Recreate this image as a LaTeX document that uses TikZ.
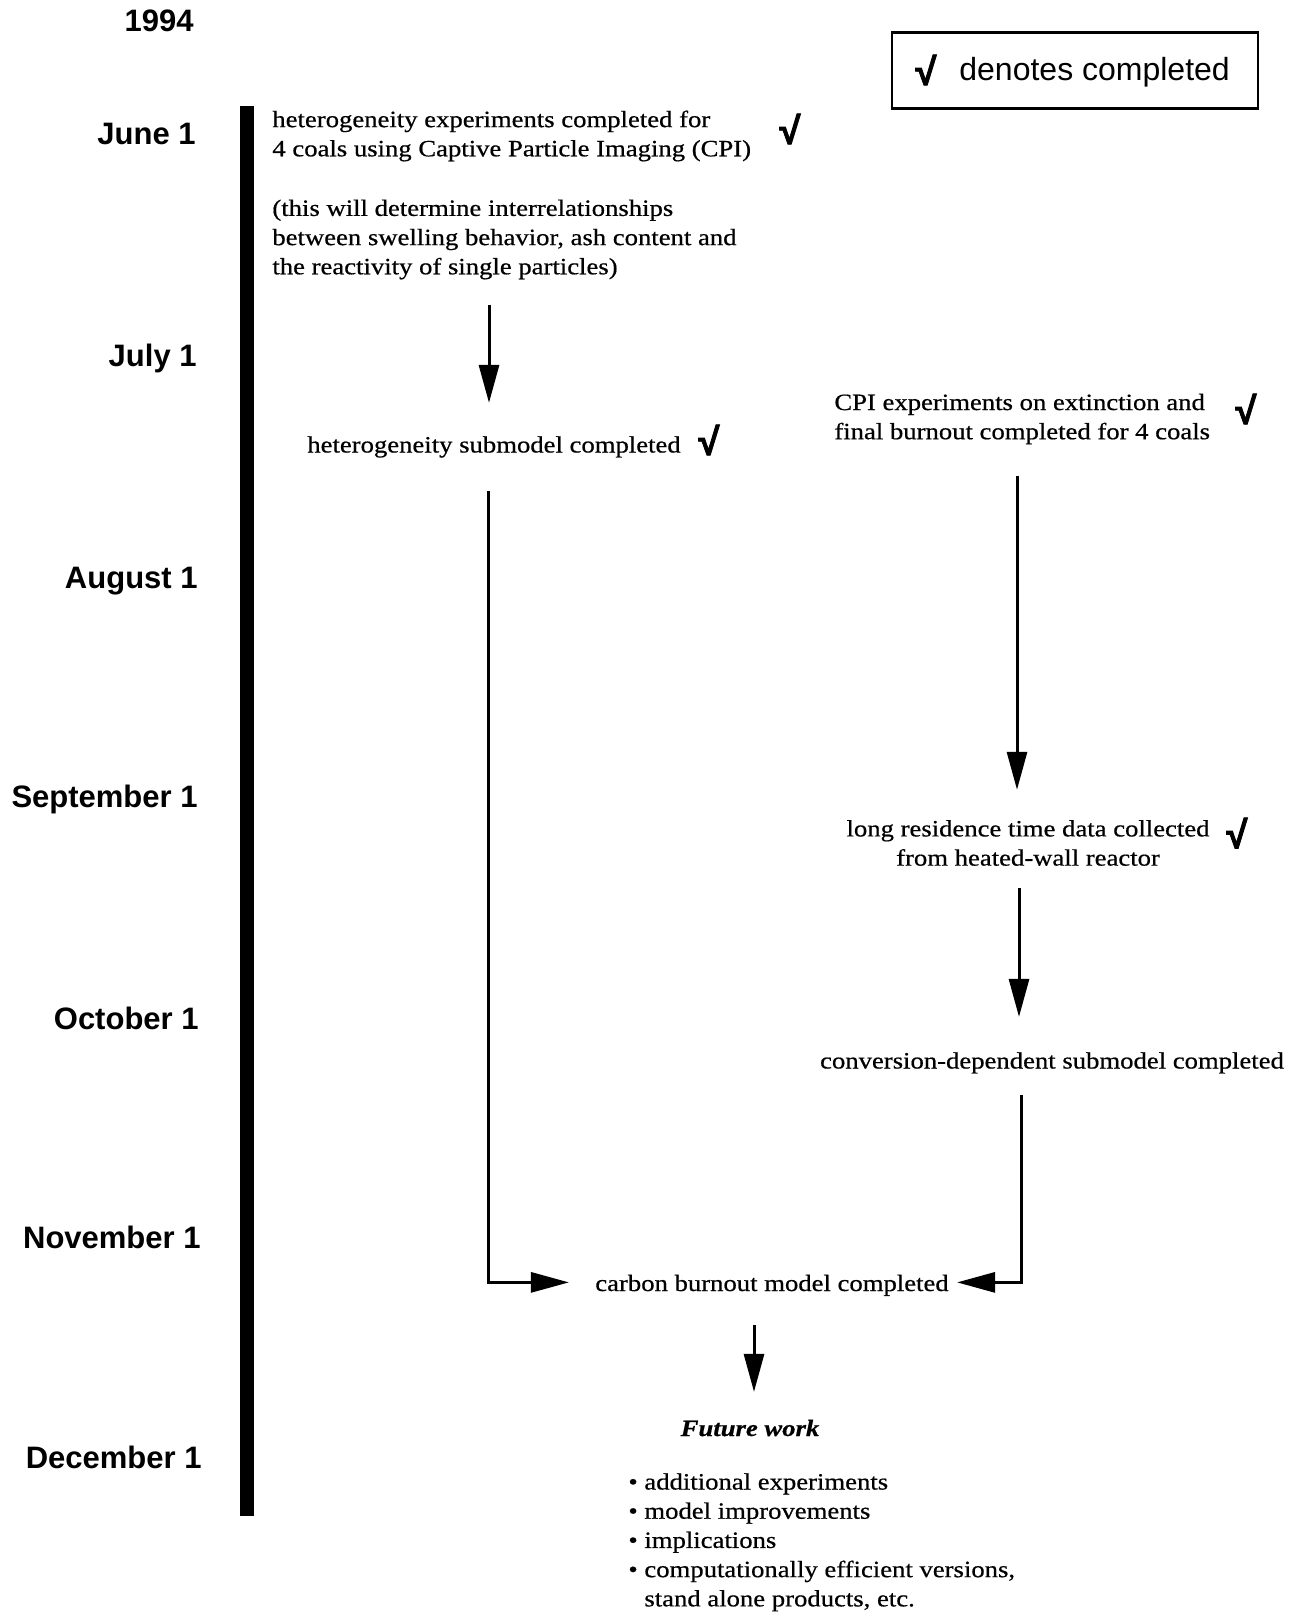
\documentclass[tikz,border=0pt]{standalone}
\usepackage{fontspec}
\setmainfont[FakeStretch=1.14,FakeBold=0.6]{Liberation Serif}
\newfontfamily\labfont{Liberation Sans}
\newfontfamily\chkfont[FakeBold=2.5]{Liberation Sans}
\usetikzlibrary{arrows.meta,calc}
\tikzset{
  txt/.style={font=\fontsize{11.7}{14.6}\selectfont, inner sep=0pt},
  mon/.style={font=\labfont\bfseries\fontsize{15.5}{18}\selectfont, inner sep=0pt, anchor=base east},
  chk/.style={font=\chkfont\bfseries\fontsize{19}{19}\selectfont, inner sep=0pt},
  lgtext/.style={font=\labfont\fontsize{16}{18}\selectfont, inner sep=0pt},
  legendbox/.style={draw, line width=1.4pt, minimum width=183pt, minimum height=38pt, inner sep=0pt},
  arr/.style={line width=1.5pt, -{Triangle[length=19pt,width=10pt]}},
  harr/.style={line width=1.5pt, -{Triangle[length=19pt,width=10pt]}}
}
\begin{document}
\begin{tikzpicture}[x=0.5pt,y=-0.5pt]
\useasboundingbox (0,0) rectangle (1295,1616);
% timeline bar
\fill (240,106) rectangle (253.5,1516);
% year and months
\node[mon] (y1994) at (194,32) {1994};
\node[mon] (jun) at (196,145) {June 1};
\node[mon] (jul) at (197,366) {July 1};
\node[mon] (aug) at (198,588) {August 1};
\node[mon] (sep) at (198,807) {September 1};
\node[mon] (oct) at (199,1029) {October 1};
\node[mon] (nov) at (201,1248) {November 1};
\node[mon] (dec) at (202,1468) {December 1};
% legend
\node[legendbox] (legend) at (1075,70.5) {};
\node[chk] (legchk) at (926,70) {√};
\node[lgtext, anchor=base west] (legtxt) at (959,81) {denotes completed};
% left column
\node[txt, align=left, anchor=west] (hexp) at (272,136) {heterogeneity experiments completed for\\4 coals using Captive Particle Imaging (CPI)};
\node[chk] (chkA) at (790,129) {√};
\node[txt, align=left, anchor=west] (note) at (272,239.5) {(this will determine interrelationships\\between swelling behavior, ash content and\\the reactivity of single particles)};
\node[txt, anchor=base] (hsub) at (494,452.5) {heterogeneity submodel completed};
\node[chk] (chkB) at (709,440) {√};
% right column
\node[txt, align=left, anchor=west] (cpi) at (834,419) {CPI experiments on extinction and\\final burnout completed for 4 coals};
\node[chk] (chkC) at (1246,409) {√};
\node[txt, align=center] (longr) at (1028,843) {long residence time data collected\\from heated-wall reactor};
\node[chk] (chkD) at (1237,833) {√};
\node[txt, anchor=base] (conv) at (1052,1068.5) {conversion-dependent submodel completed};
% bottom
\node[txt, anchor=base] (carbon) at (772,1291) {carbon burnout model completed};
\node[txt, anchor=base] (fut) at (750,1436) {\textbf{\textit{Future work}}};
\node[txt, align=left, anchor=west] (list) at (628,1542.3) {• additional experiments\\• model improvements\\• implications\\• computationally efficient versions,\\\hphantom{• }stand alone products, etc.};
% x positions of connectors
\coordinate (xA) at (489,0);
\coordinate (xL) at (488,0);
\coordinate (xR1) at (1017,0);
\coordinate (xR2) at (1019,0);
\coordinate (xR3) at (1021,0);
\coordinate (xF) at (754,0);
% connectors
\draw[arr, shorten <=12.5pt, shorten >=16.5pt] (note.south -| xA) -- (hsub.north -| xA);
\draw[harr, shorten <=16.5pt, shorten >=13pt] (hsub.south -| xL) |- ([yshift=1.5pt]carbon.west);
\draw[arr, shorten <=15.5pt, shorten >=15pt] (cpi.south -| xR1) -- (longr.north -| xR1);
\draw[arr, shorten <=11pt, shorten >=17.5pt] (longr.south -| xR2) -- (conv.north -| xR2);
\draw[harr, shorten <=10.5pt, shorten >=4pt] (conv.south -| xR3) |- ([yshift=1.5pt]carbon.east);
\draw[arr, shorten <=14.5pt, shorten >=13.75pt] (carbon.south -| xF) -- (fut.north -| xF);
\end{tikzpicture}
\end{document}
